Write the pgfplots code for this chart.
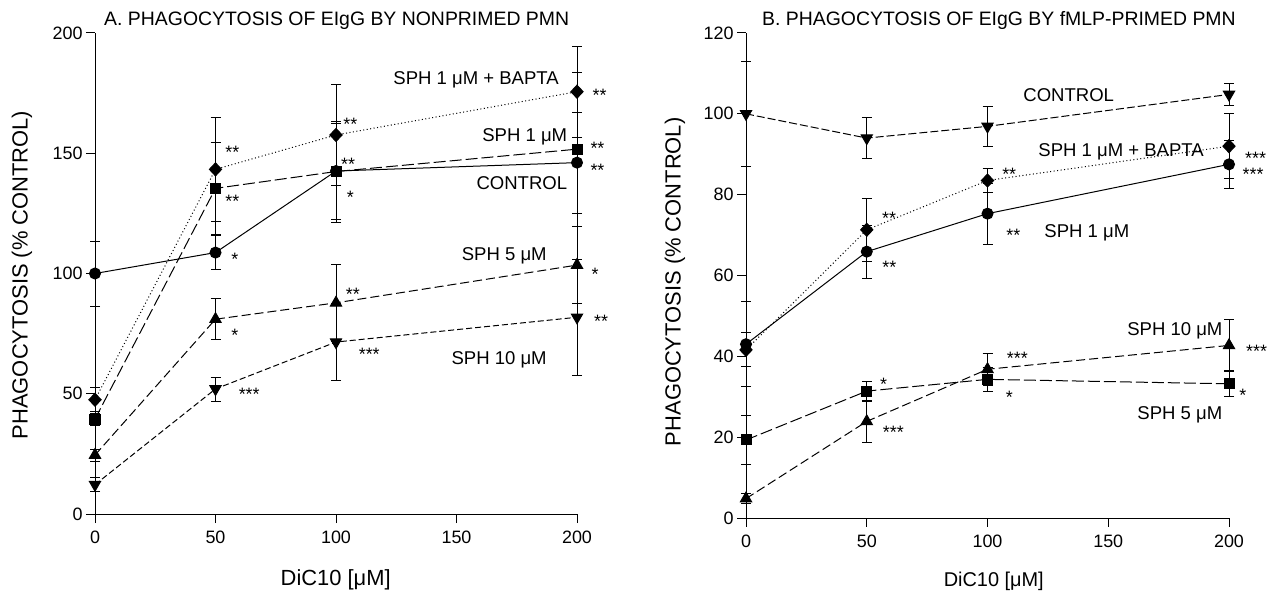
\documentclass[border=0pt]{standalone}
\usepackage{fontspec}
\setmainfont{Liberation Sans}
\usepackage{pgfplots}
\pgfplotsset{compat=1.18}

\newcommand\lab{\fontsize{18}{20}\selectfont}
\newcommand\serlab{\fontsize{18.6}{21}\selectfont}
\newcommand\ttl{\fontsize{19.5}{22}\selectfont}
\newcommand\biglab{\fontsize{22}{25}\selectfont}

\pgfplotsset{
  phago/.style={
    scale only axis, clip=false,
    axis lines=left,
    x axis line style={-,line width=1bp}, y axis line style={-,line width=1bp},
    tick align=outside, major tick length=9bp,
    tick style={line width=1bp,black},
    xmin=0, xmax=200, xtick={0,50,100,150,200},
    /pgf/number format/assume math mode=true,
    yticklabel style={font=\lab},
    xticklabel style={font=\lab, yshift=-4bp},
    every axis plot/.append style={line width=1bp, black},
  },
  eb/.style={
    /pgfplots/error bars/y dir=both,
    /pgfplots/error bars/y explicit,
    /pgfplots/error bars/error bar style={solid, line width=0.8bp},
    /pgfplots/error bars/error mark options={solid, rotate=90, mark size=5bp, line width=0.8bp},
  },
}
\tikzset{
  dlong/.style={dash pattern=on 12bp off 4bp},
  dmed/.style={dash pattern=on 9bp off 4bp},
  dshort/.style={dash pattern=on 6bp off 3bp},
  ddot/.style={dash pattern=on 1bp off 2.5bp},
  lbl/.style={font=\serlab, inner sep=0pt},
  ast/.style={font=\lab, inner sep=0pt, anchor=base, yshift=-10.5bp},
}

\begin{document}
\begin{tikzpicture}
\useasboundingbox (0,0) rectangle (1268bp,591bp);

% ---------------- panel A
\begin{axis}[phago,
  at={(95bp,77bp)}, anchor=south west,
  x=2.41bp, y=2.405bp,
  ymin=0, ymax=200, ytick={0,50,100,150,200},
  title={A. PHAGOCYTOSIS OF EIgG BY NONPRIMED PMN},
  title style={font=\ttl, at={(axis description cs:0.0187,1.004)}, anchor=base west, inner sep=0pt},
  xlabel={DiC10 [μM]},
  xlabel style={font=\biglab, at={(axis description cs:0.4994,-0.137)}, anchor=center},
  ylabel={PHAGOCYTOSIS (\% CONTROL)},
  ylabel style={font=\biglab, at={(axis description cs:-0.1515,0.497)}, anchor=center},
]
% control
\addplot[solid, mark=*, mark size=5.5bp, mark options={solid}, eb] coordinates {
  (0,100) +- (0,13.5) (50,108.7) +- (0,7) (100,142.6) +- (0,20) (200,146.1) +- (0,21)};
% SPH 1 uM
\addplot[dlong, mark=square*, mark size=5bp, mark options={solid}, eb] coordinates {
  (0,39.5) +- (0,2.5) (50,135.4) +- (0,19) (100,142.4) +- (0,21) (200,151.7) +- (0,32)};
% SPH 1 uM + BAPTA
\addplot[ddot, mark=diamond*, mark size=6.5bp, mark options={solid, xscale=1.25}, eb] coordinates {
  (0,47.5) +- (0,5) (50,143.3) +- (0,21.6) (100,157.6) +- (0,21) (200,175.6) +- (0,19)};
% SPH 5 uM
\addplot[dmed, mark=triangle*, mark size=6.5bp, mark options={solid}, eb] coordinates {
  (0,24.5) +- (0,2.5) (50,81) +- (0,8.6) (100,87.8) +- (0,16) (200,103.5) +- (0,16)};
% SPH 10 uM
\addplot[dshort, mark=triangle*, mark size=6.5bp, mark options={solid, rotate=180}, eb] coordinates {
  (0,12.2) +- (0,3) (50,52) +- (0,5) (100,71.5) +- (0,16) (200,81.8) +- (0,24)};

\node[lbl, anchor=base east] at (axis cs:192.5,178.6) {SPH 1 μM + BAPTA};
\node[lbl, anchor=base east] at (axis cs:196,154.7) {SPH 1 μM};
\node[lbl, anchor=base east] at (axis cs:196,134.8) {CONTROL};
\node[lbl, anchor=base east] at (axis cs:187.5,105.2) {SPH 5 μM};
\node[lbl, anchor=base east] at (axis cs:187.5,62.3) {SPH 10 μM};

\node[ast] at (axis cs:57,152) {**};
\node[ast] at (axis cs:57,131.7) {**};
\node[ast] at (axis cs:58,107.6) {*};
\node[ast] at (axis cs:106,163.9) {**};
\node[ast] at (axis cs:105,147) {**};
\node[ast] at (axis cs:106,133.6) {*};
\node[ast] at (axis cs:209.4,176) {**};
\node[ast] at (axis cs:208.5,153.9) {**};
\node[ast] at (axis cs:208.5,144.9) {**};
\node[ast] at (axis cs:207.5,101.4) {*};
\node[ast] at (axis cs:107,93) {**};
\node[ast] at (axis cs:58,75.9) {*};
\node[ast] at (axis cs:113.8,68.2) {***};
\node[ast] at (axis cs:64,51.7) {***};
\node[ast] at (axis cs:210,81.8) {**};
\end{axis}

% ---------------- panel B
\begin{axis}[phago,
  at={(746bp,73bp)}, anchor=south west,
  x=2.415bp, y=4.0417bp,
  ymin=0, ymax=120, ytick={0,20,40,60,80,100,120},
  title={B. PHAGOCYTOSIS OF EIgG BY fMLP-PRIMED PMN},
  title style={font=\ttl, at={(axis description cs:0.033,1.004)}, anchor=base west, inner sep=0pt},
  xlabel={DiC10 [μM]},
  xlabel style={font=\fontsize{20}{23}\selectfont, at={(axis description cs:0.513,-0.13)}, anchor=center},
  ylabel={PHAGOCYTOSIS (\% CONTROL)},
  ylabel style={font=\biglab, at={(axis description cs:-0.147,0.487)}, anchor=center},
]
% control
\addplot[dash pattern=on 8bp off 3bp, mark=triangle*, mark size=6.5bp, mark options={solid, rotate=180}, eb] coordinates {
  (0,100) +- (0,13) (50,94) +- (0,5) (100,96.9) +- (0,5) (200,104.8) +- (0,2.8)};
% SPH 1 uM + BAPTA
\addplot[ddot, mark=diamond*, mark size=6.5bp, mark options={solid, xscale=1.25}, eb] coordinates {
  (0,41.6) +- (0,4.2) (50,71.3) +- (0,7.7) (100,83.5) +- (0,3) (200,92) +- (0,8)};
% SPH 1 uM
\addplot[solid, mark=*, mark size=5.5bp, mark options={solid}, eb] coordinates {
  (0,43) +- (0,10.5) (50,65.9) +- (0,6.6) (100,75.3) +- (0,7.6) (200,87.5) +- (0,6)};
% SPH 5 uM
\addplot[dlong, mark=square*, mark size=5bp, mark options={solid}, eb] coordinates {
  (0,19.3) +- (0,6) (50,31.4) +- (0,2.5) (100,34.3) +- (0,3) (200,33.2) +- (0,3.2)};
% SPH 10 uM
\addplot[dmed, mark=triangle*, mark size=6.5bp, mark options={solid}, eb] coordinates {
  (0,4.8) +- (0,1.3) (50,23.9) +- (0,5.2) (100,36.8) +- (0,4) (200,42.7) +- (0,6.5)};

\node[lbl, anchor=base west] at (axis cs:114.8,103) {CONTROL};
\node[lbl, anchor=base west] at (axis cs:121,89.5) {SPH 1 μM + BAPTA};
\node[lbl, anchor=base west] at (axis cs:123.5,69.4) {SPH 1 μM};
\node[lbl, anchor=base west] at (axis cs:157.8,45.2) {SPH 10 μM};
\node[lbl, anchor=base west] at (axis cs:162,24.4) {SPH 5 μM};

\node[ast] at (axis cs:59.3,75.1) {**};
\node[ast] at (axis cs:59.4,63.1) {**};
\node[ast] at (axis cs:109,86.1) {**};
\node[ast] at (axis cs:110.7,71) {**};
\node[ast] at (axis cs:211,90.1) {***};
\node[ast] at (axis cs:210,86) {***};
\node[ast] at (axis cs:57,34.1) {*};
\node[ast] at (axis cs:61,22.25) {***};
\node[ast] at (axis cs:112.4,40.6) {***};
\node[ast] at (axis cs:109,31) {*};
\node[ast] at (axis cs:211.4,42.4) {***};
\node[ast] at (axis cs:205.7,31.4) {*};
\end{axis}
\end{tikzpicture}
\end{document}
